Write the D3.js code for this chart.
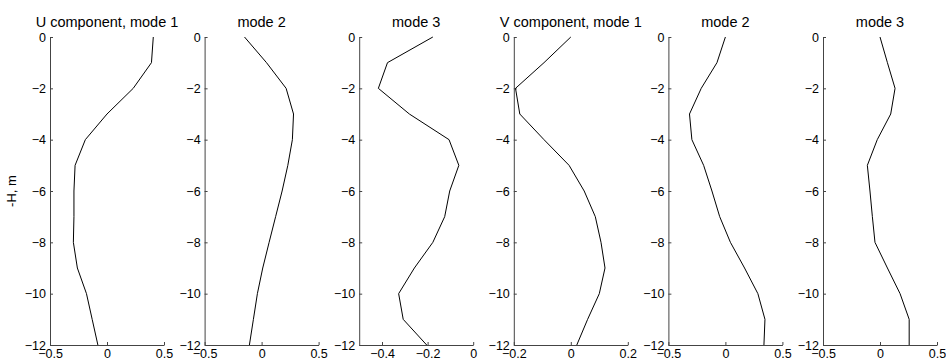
<!DOCTYPE html>
<html>
<head>
<meta charset="utf-8">
<script src="https://cdn.jsdelivr.net/npm/d3@7"></script>
<style>
  body { margin: 0; background: #fff; }
  svg { display: block; }
  text { font-family: "Liberation Sans", Arial, sans-serif; fill: #000; }
</style>
</head>
<body>
<svg width="946" height="363"></svg>
<script>
// depth levels (y values)
const depth = [0, -1, -2, -3, -4, -5, -6, -7, -8, -9, -10, -11, -12]

// mode profiles
const uMode1 = [0.406, 0.39, 0.23, 0.0, -0.19, -0.28, -0.29, -0.29, -0.295, -0.26, -0.18, -0.13, -0.08]
const uMode2 = [-0.15, 0.043, 0.215, 0.28, 0.27, 0.23, 0.18, 0.123, 0.066, 0.01, -0.037, -0.072, -0.107]
const uMode3 = [-0.177, -0.376, -0.416, -0.28, -0.106, -0.063, -0.103, -0.125, -0.177, -0.258, -0.327, -0.307, -0.204]
const vMode1 = [0.0, -0.094, -0.194, -0.179, -0.094, -0.006, 0.047, 0.086, 0.106, 0.12, 0.1, 0.059, 0.021]
const vMode2 = [0.0, -0.074, -0.212, -0.315, -0.294, -0.191, -0.118, -0.05, 0.044, 0.168, 0.285, 0.347, 0.338]
const vMode3 = [0.0, 0.065, 0.132, 0.094, -0.024, -0.111, -0.088, -0.067, -0.044, 0.065, 0.176, 0.256, 0.256]

const titles = ["U component, mode 1", "mode 2", "mode 3", "V component, mode 1", "mode 2", "mode 3"]
const series = [uMode1, uMode2, uMode3, vMode1, vMode2, vMode3]
const xDomains = [[-0.5, 0.5], [-0.5, 0.5], [-0.5, 0], [-0.2, 0.2], [-0.5, 0.5], [-0.5, 0.5]]
const xTicks = [[-0.5, 0, 0.5], [-0.5, 0, 0.5], [-0.4, -0.2, 0], [-0.2, 0, 0.2], [-0.5, 0, 0.5], [-0.5, 0, 0.5]]
const yTicks = [0, -2, -4, -6, -8, -10, -12]

const svg = d3.select('svg')

// panel layout
const left0 = 50, step = 154.6, w = 114
const plotTop = 37, plotBottom = 345

const y = d3.scaleLinear().domain([-12, 0]).range([plotBottom, plotTop])

series.forEach((vals, i) => {
  let x0 = left0 + i * step
  let x = d3.scaleLinear().domain(xDomains[i]).range([x0, x0 + w])

  // y axis, ticks pointing inward
  let ya = svg.append('g')
    .attr('transform', `translate(${x0},0)`)
    .call(d3.axisLeft(y).tickValues(yTicks).tickSizeInner(-3).tickSizeOuter(0).tickPadding(4)
      .tickFormat(d3.format('d')))
  // x axis
  let xa = svg.append('g')
    .attr('transform', `translate(0,${plotBottom})`)
    .call(d3.axisBottom(x).tickValues(xTicks[i]).tickSizeInner(-3).tickSizeOuter(0).tickPadding(4)
      .tickFormat(d => d === 0 ? '0' : d3.format('')(d)))

  ;[ya, xa].forEach(a => {
    a.selectAll('path, line').attr('stroke', '#444').attr('stroke-width', 1)
    a.selectAll('text').style('font-size', '12.5px').attr('fill', '#000')
  })

  // profile line
  svg.append('path')
    .datum(vals)
    .attr('fill', 'none')
    .attr('stroke', '#000')
    .attr('stroke-width', 1)
    .attr('d', d3.line().x(d => x(d)).y((d, j) => y(depth[j])))

  // title
  svg.append('text')
    .attr('x', x0 + w / 2)
    .attr('y', 27)
    .attr('text-anchor', 'middle')
    .style('font-size', '14.5px')
    .text(titles[i])
})

// y axis label
svg.append('text')
  .attr('transform', `translate(16,${(plotTop + plotBottom) / 2}) rotate(-90)`)
  .attr('text-anchor', 'middle')
  .style('font-size', '13px')
  .text('-H, m')
</script>
</body>
</html>
